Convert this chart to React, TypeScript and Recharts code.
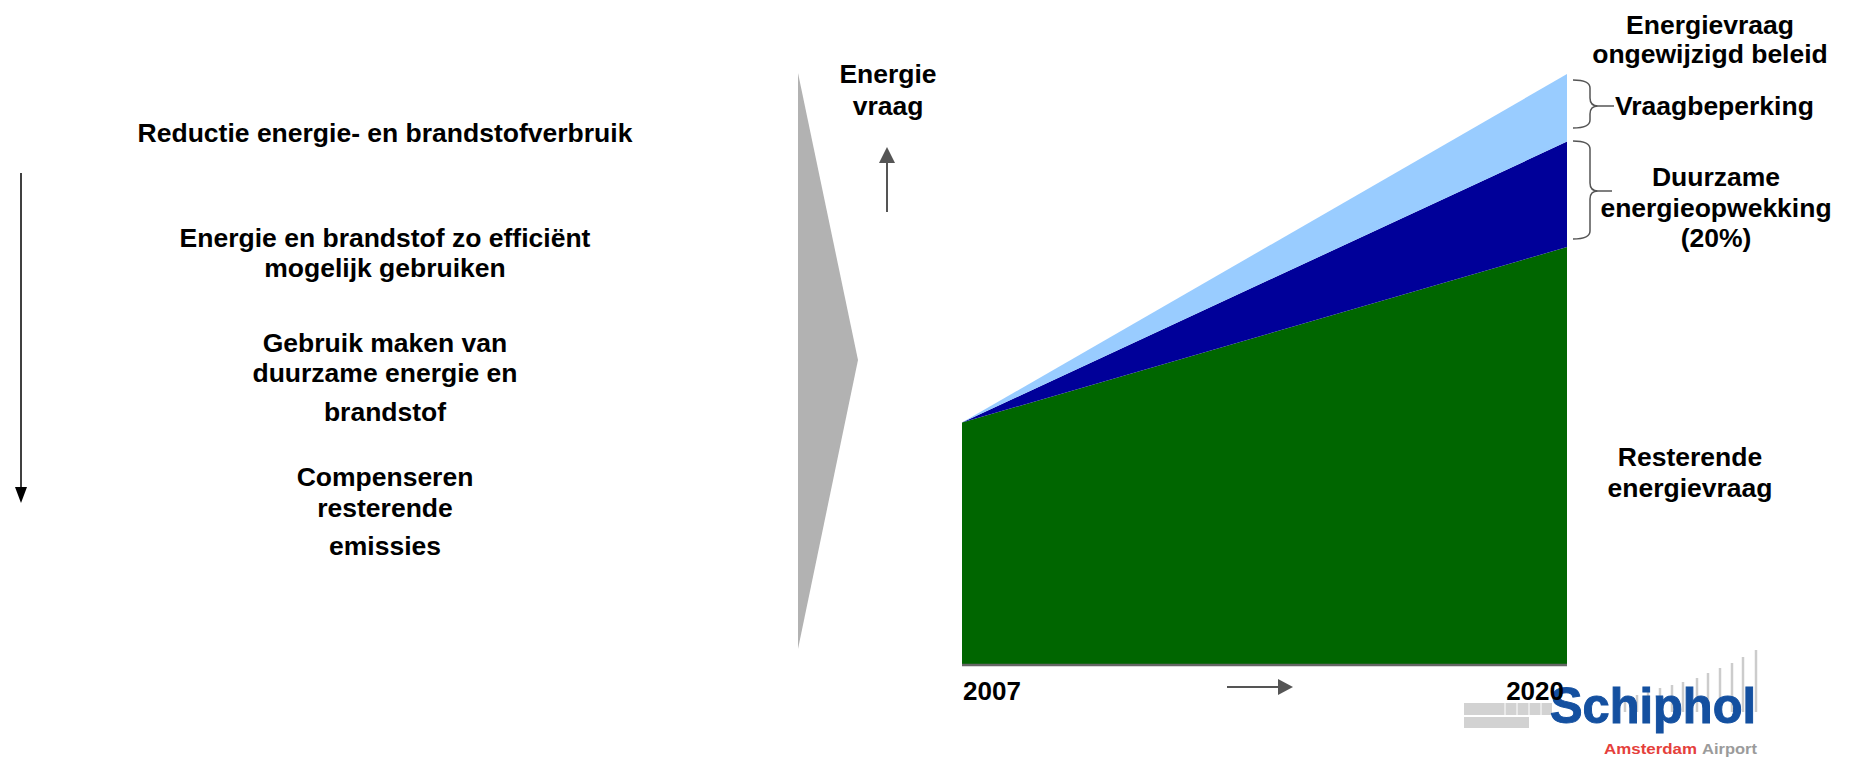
import React from "react";
import { AreaChart, Area, XAxis, YAxis, Customized } from "recharts";

// jaren op de x-as
const years = [2007, 2020];
// gestapelde energievraag (index, 0-100)
const resterendeVraag = [40.2, 69.3];
const duurzameOpwekking = [0, 17.5];
const vraagbeperking = [0, 11.2];
const yearTicks = [2007, 2020];

const data = years.map((year, i) => ({
  year,
  resterend: resterendeVraag[i],
  duurzaam: duurzameOpwekking[i],
  beperking: vraagbeperking[i],
}));

const FONT = "'Liberation Sans', Arial, sans-serif";
const FS = 26.5;

const YearTick = (props: any) => {
  const { x, y, payload } = props;
  const first = payload.value === yearTicks[0];
  return (
    <text
      x={first ? x + 1 : x - 3}
      y={y + 35}
      textAnchor={first ? "start" : "end"}
      fontFamily={FONT}
      fontWeight="bold"
      fontSize={26}
      fill="#000"
    >
      {payload.value}
    </text>
  );
};

function brace(x0: number, xs: number, xt: number, top: number, mid: number, bottom: number) {
  const r = 8;
  return `M${x0},${top} Q${xs},${top} ${xs},${top + r} L${xs},${mid - r} Q${xs},${mid} ${xs + 8},${mid} L${xt},${mid} M${xs + 8},${mid} Q${xs},${mid} ${xs},${mid + r} L${xs},${bottom - r} Q${xs},${bottom} ${x0},${bottom}`;
}

const leftLines: [string, number][] = [
  ["Reductie energie- en brandstofverbruik", 142],
  ["Energie en brandstof zo efficiënt", 247],
  ["mogelijk gebruiken", 277],
  ["Gebruik maken van", 352],
  ["duurzame energie en", 382],
  ["brandstof", 421],
  ["Compenseren", 486],
  ["resterende", 517],
  ["emissies", 555],
];

const logoBars = [
  [1625, 698], [1637, 695], [1648, 692], [1660, 688], [1672, 685], [1683, 682], [1697, 678],
  [1708, 673], [1720, 668], [1732, 663], [1743, 657], [1756, 650],
];

const Annotations = () => {
  const t = { fontFamily: FONT, fontWeight: "bold" as const, fontSize: FS, fill: "#000" };
  return (
    <g>
      {/* linker pijl */}
      <line x1={21} y1={173} x2={21} y2={490} stroke="#000" strokeWidth={1.5} />
      <polygon points="15,487 27,487 21,503" fill="#000" />
      {leftLines.map(([s, y]) => (
        <text key={s} x={385} y={y} textAnchor="middle" {...t}>
          {s}
        </text>
      ))}
      {/* grijze punt */}
      <polygon points="798,73 858,360 798,649" fill="#b2b2b2" />
      {/* y-as label */}
      <text x={888} y={83} textAnchor="middle" {...t}>Energie</text>
      <text x={888} y={115} textAnchor="middle" {...t}>vraag</text>
      <line x1={887} y1={212} x2={887} y2={160} stroke="#555" strokeWidth={2} />
      <polygon points="879,163 895,163 887,147" fill="#555" />
      {/* x-as pijl */}
      <line x1={1227} y1={687} x2={1280} y2={687} stroke="#555" strokeWidth={2} />
      <polygon points="1278,679 1278,695 1293,687" fill="#555" />
      {/* rechter labels */}
      <text x={1710} y={34} textAnchor="middle" {...t}>Energievraag</text>
      <text x={1710} y={63} textAnchor="middle" {...t}>ongewijzigd beleid</text>
      <path d={brace(1573, 1590, 1614, 80, 106, 128)} fill="none" stroke="#555" strokeWidth={1.5} />
      <text x={1615} y={115} {...t}>Vraagbeperking</text>
      <path d={brace(1573, 1590, 1612, 141, 191, 239)} fill="none" stroke="#555" strokeWidth={1.5} />
      <text x={1716} y={186} textAnchor="middle" {...t}>Duurzame</text>
      <text x={1716} y={217} textAnchor="middle" {...t}>energieopwekking</text>
      <text x={1716} y={247} textAnchor="middle" {...t}>(20%)</text>
      <text x={1690} y={466} textAnchor="middle" {...t}>Resterende</text>
      <text x={1690} y={497} textAnchor="middle" {...t}>energievraag</text>
      {/* logo */}
      <g>
        <rect x={1464} y={703} width={88} height={12} fill="#d2d2d2" />
        <rect x={1464} y={717} width={65} height={11} fill="#d2d2d2" />
        {[1505, 1517, 1529, 1541].map((x) => (
          <line key={x} x1={x} y1={703} x2={x} y2={715} stroke="#fff" strokeWidth={1} />
        ))}
        {logoBars.map(([x, y]) => (
          <line key={x} x1={x} y1={y} x2={x} y2={712} stroke="#cccccc" strokeWidth={2.5} />
        ))}
        <text
          x={1550}
          y={723}
          fontFamily={FONT}
          fontWeight="bold"
          fontSize={50}
          fill="#1450a0"
          stroke="#1450a0"
          strokeWidth={1}
          textLength={206}
          lengthAdjust="spacingAndGlyphs"
        >
          Schiphol
        </text>
        <text x={1604} y={754} fontFamily={FONT} fontWeight="bold" fontSize={15} fill="#e5403b" textLength={93} lengthAdjust="spacingAndGlyphs">
          Amsterdam
        </text>
        <text x={1702} y={754} fontFamily={FONT} fontWeight="bold" fontSize={15} fill="#9b9b9b" textLength={55} lengthAdjust="spacingAndGlyphs">
          Airport
        </text>
      </g>
    </g>
  );
};

export default function App() {
  return (
    <div style={{ position: "absolute", left: 0, top: 0, width: 1852, height: 758, background: "#fff" }}>
      <AreaChart
        width={1852}
        height={758}
        data={data}
        margin={{ top: 62, right: 285, left: 962, bottom: 63 }}
      >
        <XAxis
          dataKey="year"
          type="number"
          domain={[2007, 2020]}
          ticks={yearTicks}
          interval={0}
          height={30}
          tickSize={0}
          tickMargin={0}
          tickLine={false}
          axisLine={{ stroke: "#666", strokeWidth: 2.5 }}
          tick={<YearTick />}
        />
        <YAxis
          domain={[0, 100]}
          width={0}
          tick={false}
          tickLine={false}
          axisLine={{ stroke: "#555", strokeWidth: 1.5 }}
        />
        <Area
          type="linear"
          dataKey="resterend"
          stackId="v"
          stroke="none"
          fill="#006600"
          fillOpacity={1}
          isAnimationActive={false}
        />
        <Area
          type="linear"
          dataKey="duurzaam"
          stackId="v"
          stroke="none"
          fill="#000099"
          fillOpacity={1}
          isAnimationActive={false}
        />
        <Area
          type="linear"
          dataKey="beperking"
          stackId="v"
          stroke="none"
          fill="#99ccff"
          fillOpacity={1}
          isAnimationActive={false}
        />
        <Customized component={<Annotations />} />
      </AreaChart>
    </div>
  );
}
